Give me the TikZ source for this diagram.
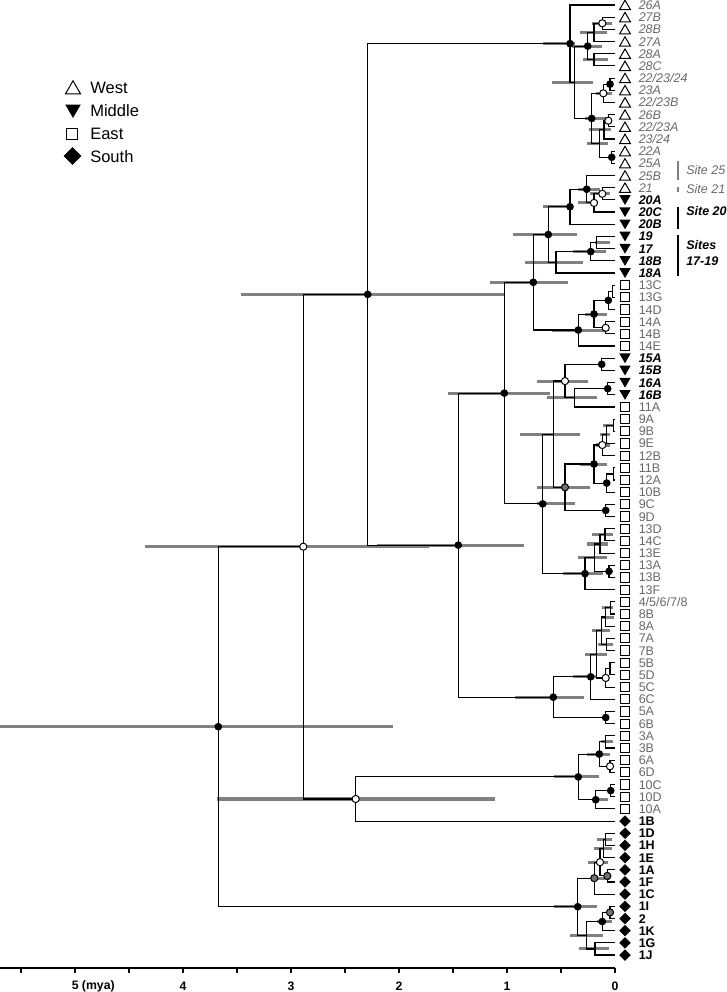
\documentclass[tikz,border=0pt]{standalone}
\usepackage{fontspec}
\setmainfont{Liberation Sans}
\usetikzlibrary{calc,shapes.geometric}
\pgfdeclarelayer{bg}
\pgfdeclarelayer{fg}
\pgfsetlayers{bg,main,fg}
\definecolor{txtgray}{RGB}{105,105,105}
\definecolor{bargray}{RGB}{128,128,128}
\definecolor{dotgray}{RGB}{112,112,112}
\tikzset{
  branch/.style={line width=0.85pt, black, line join=miter},
  hpd/.style={line width=2.3pt, bargray},
  dotB/.style={circle, fill=black, inner sep=0pt, minimum size=5.8pt},
  dotO/.style={circle, draw=black, line width=0.75pt, fill=white, inner sep=0pt, minimum size=5.4pt},
  dotG/.style={circle, draw=black, line width=0.75pt, fill=dotgray, inner sep=0pt, minimum size=5.4pt},
  symW/.style={regular polygon, regular polygon sides=3, draw=black, line width=0.75pt, fill=white, inner sep=0pt, minimum size=9.4pt, yshift=-1.1pt},
  symM/.style={regular polygon, regular polygon sides=3, shape border rotate=180, fill=black, inner sep=0pt, minimum size=9.8pt, yshift=1.1pt},
  symE/.style={rectangle, draw=black, line width=0.75pt, fill=white, inner sep=0pt, minimum size=6.9pt},
  symS/.style={diamond, fill=black, inner sep=0pt, minimum size=8.8pt},
  tipfont/.style={anchor=base west, inner sep=0pt, font=\fontsize{9.4}{10}\selectfont},
  labW/.style={tipfont, text=txtgray, font=\fontsize{9.4}{10}\selectfont\itshape},
  labM/.style={tipfont, text=black, font=\fontsize{9.4}{10}\selectfont\bfseries\itshape},
  labE/.style={tipfont, text=txtgray},
  labS/.style={tipfont, text=black, font=\fontsize{9.4}{10}\selectfont\bfseries},
  sitegray/.style={anchor=west, inner sep=0pt, text=txtgray, font=\fontsize{9.4}{11}\selectfont\itshape},
  siteblack/.style={anchor=west, inner sep=0pt, text=black, font=\fontsize{9.4}{11}\selectfont\bfseries\itshape},
  legtext/.style={anchor=west, inner sep=0pt, font=\fontsize{12.4}{14}\selectfont},
  axlab/.style={inner sep=0pt, font=\fontsize{9.2}{10}\selectfont\bfseries},
}
\newcommand\mk[4]{%
  \path let \p1=($(#3)!0.5!(#4)$) in (#2*0.75pt,\y1) coordinate (#1);
  \draw[branch] (#1) |- (#3);
  \draw[branch] (#1) |- (#4);}
\newcommand\hpd[3]{\begin{pgfonlayer}{bg}\draw[hpd] let \p1=(#1) in (#2*0.75pt,\y1) -- (#3*0.75pt,\y1);\end{pgfonlayer}}
\newcommand\dt[2]{\begin{pgfonlayer}{fg}\node[#2] (d#1) at (#1) {};\end{pgfonlayer}}
\begin{document}
\begin{tikzpicture}[x=0.75pt,y=-0.75pt]
\useasboundingbox (0,0) rectangle (726,992);
% tips
\foreach \lab/\cat [count=\i] in {{26A}/W,{27B}/W,{28B}/W,{27A}/W,{28A}/W,{28C}/W,{22/23/24}/W,{23A}/W,{22/23B}/W,{26B}/W,{22/23A}/W,{23/24}/W,{22A}/W,{25A}/W,{25B}/W,{21}/W,{20A}/M,{20C}/M,{20B}/M,{19}/M,{17}/M,{18B}/M,{18A}/M,{13C}/E,{13G}/E,{14D}/E,{14A}/E,{14B}/E,{14E}/E,{15A}/M,{15B}/M,{16A}/M,{16B}/M,{11A}/E,{9A}/E,{9B}/E,{9E}/E,{12B}/E,{11B}/E,{12A}/E,{10B}/E,{9C}/E,{9D}/E,{13D}/E,{14C}/E,{13E}/E,{13A}/E,{13B}/E,{13F}/E,{4/5/6/7/8}/E,{8B}/E,{8A}/E,{7A}/E,{7B}/E,{5B}/E,{5D}/E,{5C}/E,{6C}/E,{5A}/E,{6B}/E,{3A}/E,{3B}/E,{6A}/E,{6D}/E,{10C}/E,{10D}/E,{10A}/E,{1B}/S,{1D}/S,{1H}/S,{1E}/S,{1A}/S,{1F}/S,{1C}/S,{1I}/S,{2}/S,{1K}/S,{1G}/S,{1J}/S}{
  \coordinate (t\i) at (615,{5+(\i-1)*12.18});
  \node[sym\cat] (s\i) at (625,{5+(\i-1)*12.18}) {};
  \node[lab\cat] (l\i) at (638.5,{5+(\i-1)*12.18+4.5}) {\lab};
}
% West
\mk{a1}{602.3}{t2}{t3}
\mk{a2}{594}{a1}{t4}
\mk{a3}{594}{t5}{t6}
\mk{a4}{587.7}{a2}{a3}
\mk{b1}{610}{t7}{t8}
\mk{b2}{603.3}{b1}{t9}
\mk{c1}{608.3}{t10}{t11}
\mk{c2}{604}{c1}{t12}
\mk{c3}{611.7}{t13}{t14}
\mk{c4}{599.3}{c2}{c3}
\mk{b3}{591.7}{b2}{c4}
\mk{w2}{574.3}{a4}{b3}
\mk{w1}{570}{t1}{w2}
% Middle and East
\mk{m1}{602.3}{t16}{t17}
\mk{m2}{594}{m1}{t18}
\mk{m3}{586.7}{t15}{m2}
\mk{m4}{570}{m3}{t19}
\mk{m5}{596.7}{t20}{t21}
\mk{m6}{590.7}{m5}{t22}
\mk{m7}{556}{m6}{t23}
\mk{m8}{548.3}{m4}{m7}
\mk{e1}{612.7}{t24}{t25}
\mk{e2}{608.3}{e1}{t26}
\mk{e3}{605.7}{t27}{t28}
\mk{e4}{594}{e2}{e3}
\mk{e5}{578.3}{e4}{t29}
\mk{m9}{533.3}{m8}{e5}
\mk{f1}{601.7}{t30}{t31}
\mk{f2}{607.7}{t32}{t33}
\mk{f3}{574.3}{f2}{t34}
\mk{f4}{565}{f1}{f3}
\mk{g1}{613.3}{t35}{t36}
\mk{g2}{606.7}{g1}{t37}
\mk{g3}{602.3}{g2}{t38}
\mk{g4}{613.3}{t39}{t40}
\mk{g5}{606.7}{g4}{t41}
\mk{g6}{594}{g3}{g5}
\mk{g7}{605.7}{t42}{t43}
\mk{g8}{565}{g6}{g7}
\mk{f5}{553.3}{f4}{g8}
\mk{h1}{605}{t44}{t45}
\mk{h2}{600}{h1}{t46}
\mk{h3}{609}{t47}{t48}
\mk{h4}{594.3}{h2}{h3}
\mk{h5}{585}{h4}{t49}
\mk{f6}{542.7}{f5}{h5}
\mk{k}{504.3}{m9}{f6}
\mk{p1}{610.7}{t50}{t51}
\mk{p2}{605.7}{p1}{t52}
\mk{p3}{606.7}{t53}{t54}
\mk{p4}{601.7}{p2}{p3}
\mk{p5}{610}{t55}{t56}
\mk{p6}{605.7}{p5}{t57}
\mk{p7}{596.7}{p4}{p6}
\mk{p8}{590.7}{p7}{t58}
\mk{p9}{605.7}{t59}{t60}
\mk{p10}{553.3}{p8}{p9}
\mk{q}{458.3}{k}{p10}
\mk{r}{367.7}{w1}{q}
\mk{s1}{605.7}{t61}{t62}
\mk{s2}{610}{t63}{t64}
\mk{s3}{599.3}{s1}{s2}
\mk{s4}{610.7}{t65}{t66}
\mk{s5}{595.7}{s4}{t67}
\mk{s6}{578.3}{s3}{s5}
\mk{s7}{355.7}{s6}{t68}
\mk{tt}{303.3}{r}{s7}
% South
\mk{u1}{605.7}{t69}{t70}
\mk{u2}{603.3}{u1}{t71}
\mk{u3}{607.3}{t72}{t73}
\mk{u4}{600}{u2}{u3}
\mk{u5}{594.3}{u4}{t74}
\mk{v1}{610}{t75}{t76}
\mk{v2}{602.3}{v1}{t77}
\mk{v3}{595}{t78}{t79}
\mk{v4}{586.7}{v2}{v3}
\mk{v5}{577.7}{u5}{v4}
\mk{root}{218.3}{tt}{v5}
% HPD bars
\hpd{root}{0}{392.7}
\hpd{tt}{145}{428.7}
\hpd{s7}{216.7}{495}
\hpd{r}{241}{505}
\hpd{q}{376.7}{524.3}
\hpd{k}{448.3}{550}
\hpd{m9}{490}{568.3}
\hpd{m8}{513.3}{576.7}
\hpd{w1}{543}{575}
\hpd{w2}{551.7}{593.3}
\hpd{a4}{571.7}{601.7}
\hpd{a1}{591.7}{611.7}
\hpd{a2}{580}{606.7}
\hpd{a3}{583.3}{608.3}
\hpd{b2}{596}{612}
\hpd{b3}{585}{607}
\hpd{c2}{589}{611}
\hpd{c4}{586.7}{608.3}
\hpd{m1}{590}{610}
\hpd{m2}{578}{598}
\hpd{m3}{578}{600}
\hpd{m4}{543}{572}
\hpd{m5}{595}{610}
\hpd{m6}{573}{606}
\hpd{m7}{525}{583.3}
\hpd{e4}{585}{607}
\hpd{e5}{551.7}{606.7}
\hpd{f3}{546.7}{596.7}
\hpd{f4}{536.7}{588.3}
\hpd{f5}{520}{580}
\hpd{g1}{603}{613}
\hpd{g2}{600}{610}
\hpd{g3}{596}{610}
\hpd{g6}{580}{606.7}
\hpd{g8}{536.7}{590}
\hpd{f6}{536.7}{575}
\hpd{h1}{591.7}{613.3}
\hpd{h2}{586.7}{608.3}
\hpd{h4}{578.3}{606.7}
\hpd{h5}{563.3}{603}
\hpd{p1}{601.7}{613.3}
\hpd{p2}{602}{614}
\hpd{p3}{598}{613}
\hpd{p4}{591.7}{610}
\hpd{p7}{585}{606.7}
\hpd{p8}{573.3}{596.7}
\hpd{p10}{515}{584}
\hpd{s1}{601}{613}
\hpd{s3}{586.7}{610}
\hpd{s5}{596.7}{608.3}
\hpd{s6}{554.3}{599.3}
\hpd{u1}{596.7}{611.7}
\hpd{u2}{594}{611.7}
\hpd{u4}{588}{608}
\hpd{u5}{596.7}{610}
\hpd{v2}{596.7}{611.7}
\hpd{v3}{579.3}{609.3}
\hpd{v4}{570}{603.3}
\hpd{v5}{554.3}{596.7}
% node dots
\foreach \n in {root,r,w1,a4,b1,b3,c3,m3,m4,m8,m6,m9,k,q,e5,e4,e2,f1,f2,f6,g6,g5,g7,h5,h3,p10,p8,p9,s6,s3,s5,s4,v5,v2}{\dt{\n}{dotB}}
\foreach \n in {tt,s7,a1,b2,c1,m1,m2,e3,f4,g3,p6,s2,u4}{\dt{\n}{dotO}}
\foreach \n in {g8,u5,u3,v1}{\dt{\n}{dotG}}
% site brackets
\draw[bargray, line width=1.3pt] (678,161) coordinate (b25a) -- (678,179.5) coordinate (b25b);
\draw[bargray, line width=1.3pt] (678,186.5) coordinate (b21a) -- (678,191.5) coordinate (b21b);
\draw[black, line width=1.6pt] (678,206.5) coordinate (b20a) -- (678,229) coordinate (b20b);
\draw[black, line width=1.6pt] (678,235) coordinate (b17a) -- (678,276) coordinate (b17b);
\node[sitegray] (site25) at (686,170.5) {Site 25};
\node[sitegray] (site21) at (686,189) {Site 21};
\node[siteblack] (site20) at (686,211) {Site 20};
\node[siteblack, align=left] (site17) at (686,253) {Sites\\[1pt]17-19};
% legend
\node[symW, minimum size=13pt] (lgW) at (73,88) {};
\node[symM, minimum size=13.5pt, yshift=0.4pt] (lgM) at (73,111) {};
\node[symE, minimum size=8.6pt] (lgE) at (72,133.8) {};
\node[symS, minimum size=13.5pt] (lgS) at (72.5,156) {};
\node[legtext] (txW) at (90,88.3) {West};
\node[legtext] (txM) at (90,111) {Middle};
\node[legtext] (txE) at (90,134) {East};
\node[legtext] (txS) at (90,157) {South};
% axis
\draw[black, line width=0.8pt] (0,968) coordinate (ax0) -- (615,968) coordinate (ax1);
\foreach \k in {0,...,11}{\draw[black, line width=0.8pt] (615-54*\k,968) -- (615-54*\k,972.5);}
\node[axlab] (a0) at (615,986) {0};
\node[axlab] (a1l) at (507,986) {1};
\node[axlab] (a2l) at (399,986) {2};
\node[axlab] (a3l) at (291,986) {3};
\node[axlab] (a4l) at (183,986) {4};
\node[axlab, anchor=west] (a5l) at (71.5,986) {5 (mya)};
\end{tikzpicture}
\end{document}
